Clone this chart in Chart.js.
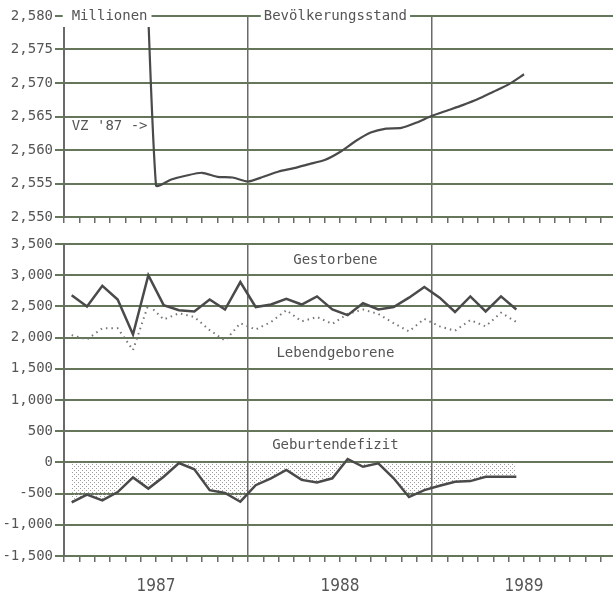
<!DOCTYPE html>
<html>
<head>
<meta charset="utf-8">
<script src="https://cdn.jsdelivr.net/npm/chart.js@4.4.1/dist/chart.umd.min.js"></script>
<style>
  body { margin: 0; background: #fff; overflow: hidden; width: 613px; height: 597px; position: relative; }
  canvas { position: absolute; left: 0; }
  #pop { top: 0; }
  #flow { top: 232px; }
</style>
</head>
<body>
<canvas id="pop" width="620" height="232"></canvas>
<canvas id="flow" width="620" height="365"></canvas>
<script>
const yearLabels = ["1987", "1988", "1989"];

// Bevoelkerungsstand am Monatsende, Mio. (Jan 1987 - Jun 1989), Bruch durch VZ '87
const population = [
  null, null, null, null, 2.614, 2.5547, 2.5556, 2.5562, 2.5566, 2.556,
  2.5559, 2.5553, 2.556, 2.5568, 2.5573, 2.5579, 2.5585, 2.5597, 2.5613, 2.5626,
  2.5632, 2.5633, 2.5641, 2.5651, 2.5659, 2.5667, 2.5676, 2.5687, 2.5698, 2.5713,
];

// Monatswerte Jan 1987 - Jun 1989
const deaths = [
  2680, 2500, 2830, 2610, 2050, 3000, 2520, 2440, 2420, 2610, 2450, 2890,
  2490, 2530, 2620, 2530, 2660, 2450, 2360, 2550, 2450, 2490, 2640, 2810,
  2640, 2410, 2660, 2420, 2660, 2450,
];
const births = [
  2040, 1970, 2150, 2150, 1800, 2530, 2290, 2390, 2330, 2120, 1950, 2230,
  2130, 2250, 2440, 2260, 2330, 2220, 2380, 2450, 2380, 2230, 2100, 2300,
  2180, 2110, 2280, 2180, 2400, 2250,
];
const deficit = [
  -640, -515, -610, -475, -240, -420, -230, -10, -110, -445, -490, -630,
  -365, -255, -120, -280, -320, -255, 55, -70, -15, -255, -555, -445,
  -375, -310, -300, -230, -230, -230,
];

const GRID = "#66765b";
const VLINE = "#6a6a6a";
const LINE = "#4a4a4a";
const TEXT = "#555";
const MONO = "'DejaVu Sans Mono', 'Liberation Mono', monospace";

function monthEnd(values) {
  return values.map((v, i) => ({ x: i + 1, y: v }));
}
function monthMid(values) {
  return values.map((v, i) => ({ x: i + 0.5, y: v }));
}

function dotPattern() {
  const c = document.createElement("canvas");
  c.width = 4;
  c.height = 4;
  const g = c.getContext("2d");
  g.fillStyle = "#9c9c9c";
  g.fillRect(0, 0, 1, 1);
  g.fillRect(2, 2, 1, 1);
  return g.createPattern(c, "repeat");
}

function monthAxis(showLabels) {
  return {
    type: "linear",
    min: 0,
    max: 36,
    afterFit(scale) {
      scale.height = showLabels ? 41 : 15;
      scale.paddingLeft = 0;
      scale.paddingRight = 0;
    },
    ticks: {
      stepSize: 1,
      autoSkip: false,
      maxRotation: 0,
      display: showLabels,
      padding: 14,
      color: TEXT,
      font: { family: "'Liberation Sans Narrow', 'DejaVu Sans Condensed', sans-serif", size: 17 },
      callback: (v) => (v % 12 === 6 ? yearLabels[(v - 6) / 12] : ""),
    },
    grid: {
      color: (c) => (c.tick && c.tick.value % 12 === 0 ? VLINE : "transparent"),
      lineWidth: 1.5,
      tickLength: 6,
      tickColor: VLINE,
      tickWidth: 1.5,
    },
    border: { color: GRID, width: 2 },
  };
}

function valueAxis(min, max, step, fmt) {
  return {
    min: min,
    max: max,
    afterFit(scale) {
      scale.width = 64;
    },
    ticks: {
      stepSize: step,
      color: TEXT,
      padding: 2,
      font: { family: MONO, size: 14 },
      callback: fmt,
    },
    grid: { color: GRID, lineWidth: 2, tickLength: 9, tickColor: GRID },
    border: { color: VLINE, width: 2 },
  };
}

const textPlugin = {
  id: "texts",
  afterDatasetsDraw(chart, args, opts) {
    const { ctx } = chart;
    const x = chart.scales.x;
    const y = chart.scales.y;
    ctx.save();
    ctx.font = "14px " + MONO;
    ctx.textBaseline = "middle";
    opts.items.forEach((it) => {
      const px = x.getPixelForValue(it.x);
      const py = y.getPixelForValue(it.y);
      ctx.textAlign = it.align || "center";
      const w = ctx.measureText(it.text).width;
      if (it.clear) {
        const left = it.align === "left" ? px : px - w / 2;
        const [l, r, t, b] = it.clear;
        ctx.fillStyle = "#fff";
        ctx.fillRect(left - l, py - t, w + l + r, t + b);
      }
      ctx.fillStyle = TEXT;
      ctx.fillText(it.text, px, py);
    });
    ctx.restore();
  },
};

new Chart(document.getElementById("pop"), {
  type: "line",
  data: {
    datasets: [
      {
        data: monthEnd(population),
        borderColor: LINE,
        borderWidth: 2.2,
        pointRadius: 0,
        tension: 0.2,
      },
    ],
  },
  options: {
    responsive: false,
    animation: false,
    layout: { padding: { top: 16, right: 4, bottom: 0, left: 0 } },
    scales: {
      x: monthAxis(false),
      y: valueAxis(2.55, 2.58, 0.005, (v) => v.toFixed(3).replace(".", ",")),
    },
    plugins: {
      legend: { display: false },
      tooltip: { enabled: false },
      texts: {
        items: [
          { text: "Millionen", x: 0.5, y: 2.58, align: "left", clear: [9, 4, 8, 11] },
          { text: "Bevölkerungsstand", x: 17.7, y: 2.58, clear: [3, 3, 8, 8] },
          { text: "VZ '87 ->", x: 0.5, y: 2.5636, align: "left" },
        ],
      },
    },
  },
  plugins: [textPlugin],
});

new Chart(document.getElementById("flow"), {
  type: "line",
  data: {
    datasets: [
      {
        data: monthMid(deaths),
        borderColor: LINE,
        borderWidth: 2.5,
        pointRadius: 0,
      },
      {
        data: monthMid(births),
        borderColor: "#777",
        borderWidth: 2,
        borderDash: [1.5, 4],
        pointRadius: 0,
      },
      {
        data: monthMid(deficit),
        borderColor: LINE,
        borderWidth: 2.5,
        pointRadius: 0,
        fill: { value: 0 },
        backgroundColor: dotPattern(),
      },
    ],
  },
  options: {
    responsive: false,
    animation: false,
    layout: { padding: { top: 12, right: 4, bottom: 0, left: 0 } },
    scales: {
      x: monthAxis(true),
      y: valueAxis(-1500, 3500, 500, (v) => v.toLocaleString("en-US")),
    },
    plugins: {
      legend: { display: false },
      tooltip: { enabled: false },
      texts: {
        items: [
          { text: "Gestorbene", x: 17.7, y: 3230 },
          { text: "Lebendgeborene", x: 17.7, y: 1750 },
          { text: "Geburtendefizit", x: 17.7, y: 280 },
        ],
      },
    },
  },
  plugins: [textPlugin],
});
</script>
</body>
</html>
